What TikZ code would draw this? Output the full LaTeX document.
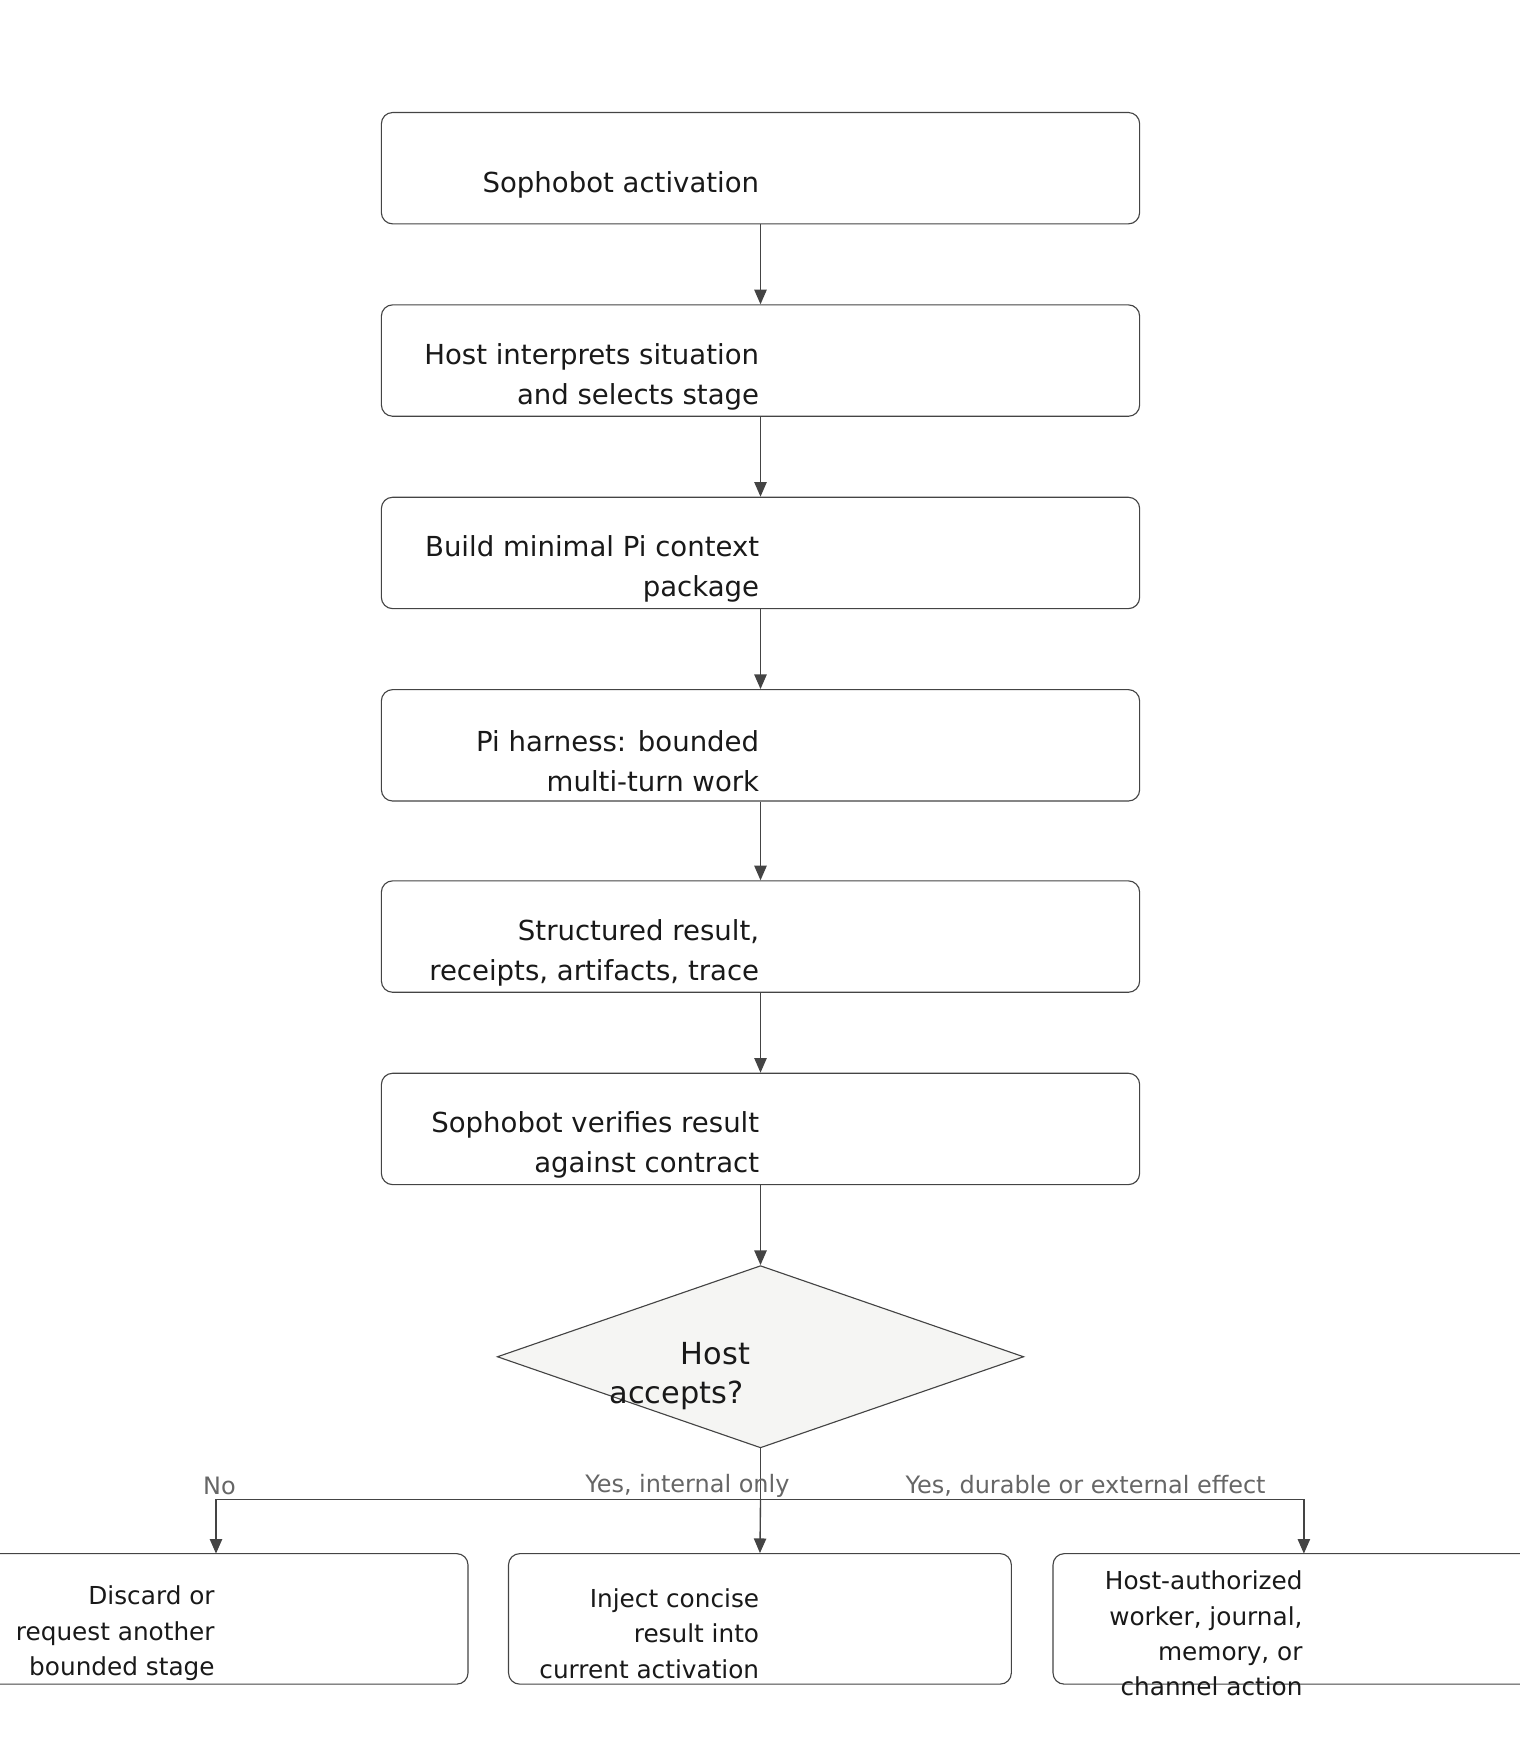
\documentclass[tikz,border=0pt]{standalone}
\usepackage{fontspec}
\setmainfont{DejaVu Sans}
\usetikzlibrary{shapes.geometric,arrows.meta}
\definecolor{ln}{HTML}{444444}
\definecolor{df}{HTML}{F5F5F3}
\definecolor{lb}{HTML}{666666}
\tikzset{
 box/.style={draw=ln,line width=1pt,rounded corners=10pt,inner sep=0pt},
 txt/.style={anchor=east,align=right,inner sep=0pt,font=\fontsize{24.5}{35.5}\selectfont,text=black!90},
 dtxt/.style={anchor=east,inner sep=0pt,font=\fontsize{27}{35}\selectfont,text=black!90},
 btxt/.style={anchor=east,align=right,inner sep=0pt,font=\fontsize{22}{31.5}\selectfont,text=black!90},
 arr/.style={draw=ln,line width=1.2pt,-{Triangle[length=13pt,width=11pt]}},
 lab/.style={font=\fontsize{21.3}{24}\selectfont,text=lb,inner sep=0pt}
}
\begin{document}
\begin{tikzpicture}[x=1pt,y=-1pt]
\useasboundingbox (0,0) rectangle (1351,1568);
\foreach \n/\t in {b1/100,b2/271,b3/442,b4/613,b5/783,b6/954}{
  \node[box,minimum width=674pt,minimum height=99pt] (\n) at (676,\t+49.5) {};
}
\node[txt] (t1) at (675,164) {Sophobot activation};
\node[txt] (t2) at (675,335) {Host interprets situation\\and selects stage};
\node[txt] (t3) at (675,506) {Build minimal Pi context\\package};
\node[txt] (t4) at (675,677) {Pi harness: bounded\\multi-turn work};
\node[txt] (t5) at (675,847) {Structured result,\\receipts, artifacts, trace};
\node[txt] (t6) at (675,1018) {Sophobot verifies result\\against contract};
\node[draw=ln,fill=df,line width=1pt,diamond,aspect=2.89,minimum width=468pt,minimum height=162pt,inner sep=0pt] (d) at (676,1206) {};
\node[dtxt] (dh) at (667,1203) {Host};
\node[dtxt] (da) at (661,1240) {accepts?};
\node[box,minimum width=446pt,minimum height=116pt] (l) at (193,1439) {};
\node[box,minimum width=447pt,minimum height=116pt] (m) at (675.5,1439) {};
\node[box,minimum width=444pt,minimum height=116pt] (r) at (1158,1439) {};
\node[btxt] (lt) at (191,1452) {Discard or\\request another\\bounded stage};
\node[btxt] (mt) at (675,1452) {Inject concise\\result into\\current activation};
\node[btxt] (rt) at (1158,1452) {Host-authorized\\worker, journal,\\memory, or\\channel action};
\foreach \a/\b in {b1/b2,b2/b3,b3/b4,b4/b5,b5/b6,b6/d}{ \draw[arr] (\a.south) -- (\b.north); }
\coordinate (j) at (676,1333);
\draw[draw=ln,line width=1.2pt] (d.south) -- (j);
\draw[arr] (j) -- (m.north);
\draw[arr] (j) -| (192,1381);
\draw[arr] (j) -| (1159,1381);
\node[lab] (n1) at (195,1321) {No};
\node[lab] (n2) at (611,1321) {Yes, internal only};
\node[lab] (n3) at (965,1321) {Yes, durable or external effect};
\end{tikzpicture}
\end{document}
